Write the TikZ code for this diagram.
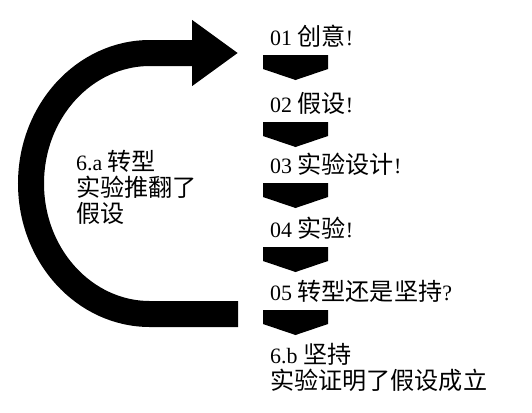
\documentclass[tikz,border=0pt]{standalone}
\usepackage{fontspec}
\setmainfont{Liberation Serif}
\newfontfamily\cjk[Scale=1.1]{Noto Sans CJK SC}
\usetikzlibrary{arrows.meta}

\begin{document}
\begin{tikzpicture}
	[   x=1bp, y=-1bp,
	    stext/.style={anchor=base west,inner sep=0pt,align=left,font=\fontsize{22}{26}\selectfont},
	    chev/.style={fill=black},
	]
	\tikzset{loop arrow/.style={draw,line width=26bp,-{Triangle[length=46bp,width=63bp]}}}
	\useasboundingbox (0,0) rectangle (532,412);
	
	% steps with their chevrons
	\foreach \i/\y/\t in {1/45/{01 {\cjk 创意}!},2/112/{02 {\cjk 假设}!},3/173/{03 {\cjk 实验设计}!},4/237/{04 {\cjk 实验}!},5/300/{05 {\cjk 转型还是坚持}?}}
	{
		\node[stext] (st-\i) at (270,\y) {\t};
		\coordinate (ch-\i) at (263,{\y+10});
		\fill[chev] (ch-\i) -- ++(65,0) -- ++(0,14) -- ++(-32.5,11) -- ++(-32.5,-11) -- cycle;
	}
	
	% base is the last line here
	\node[stext] (st-6b) at (270,389) {6.b {\cjk 坚持}\\{\cjk 实验证明了假设成立}};
	\node[stext] (st-6a) at (76,222) {6.a {\cjk 转型}\\{\cjk 实验推翻了}\\{\cjk 假设}};
	
	% loop back to the start
	\coordinate (loop-a) at (238,314);
	\coordinate (loop-b) at (238,53);
	\draw[loop arrow] (loop-a) -- (150,314) .. controls (84.3,314) and (31,255.6) .. (31,183.5)
		.. controls (31,111.4) and (84.3,53) .. (150,53) -- (loop-b);
\end{tikzpicture}
\end{document}
